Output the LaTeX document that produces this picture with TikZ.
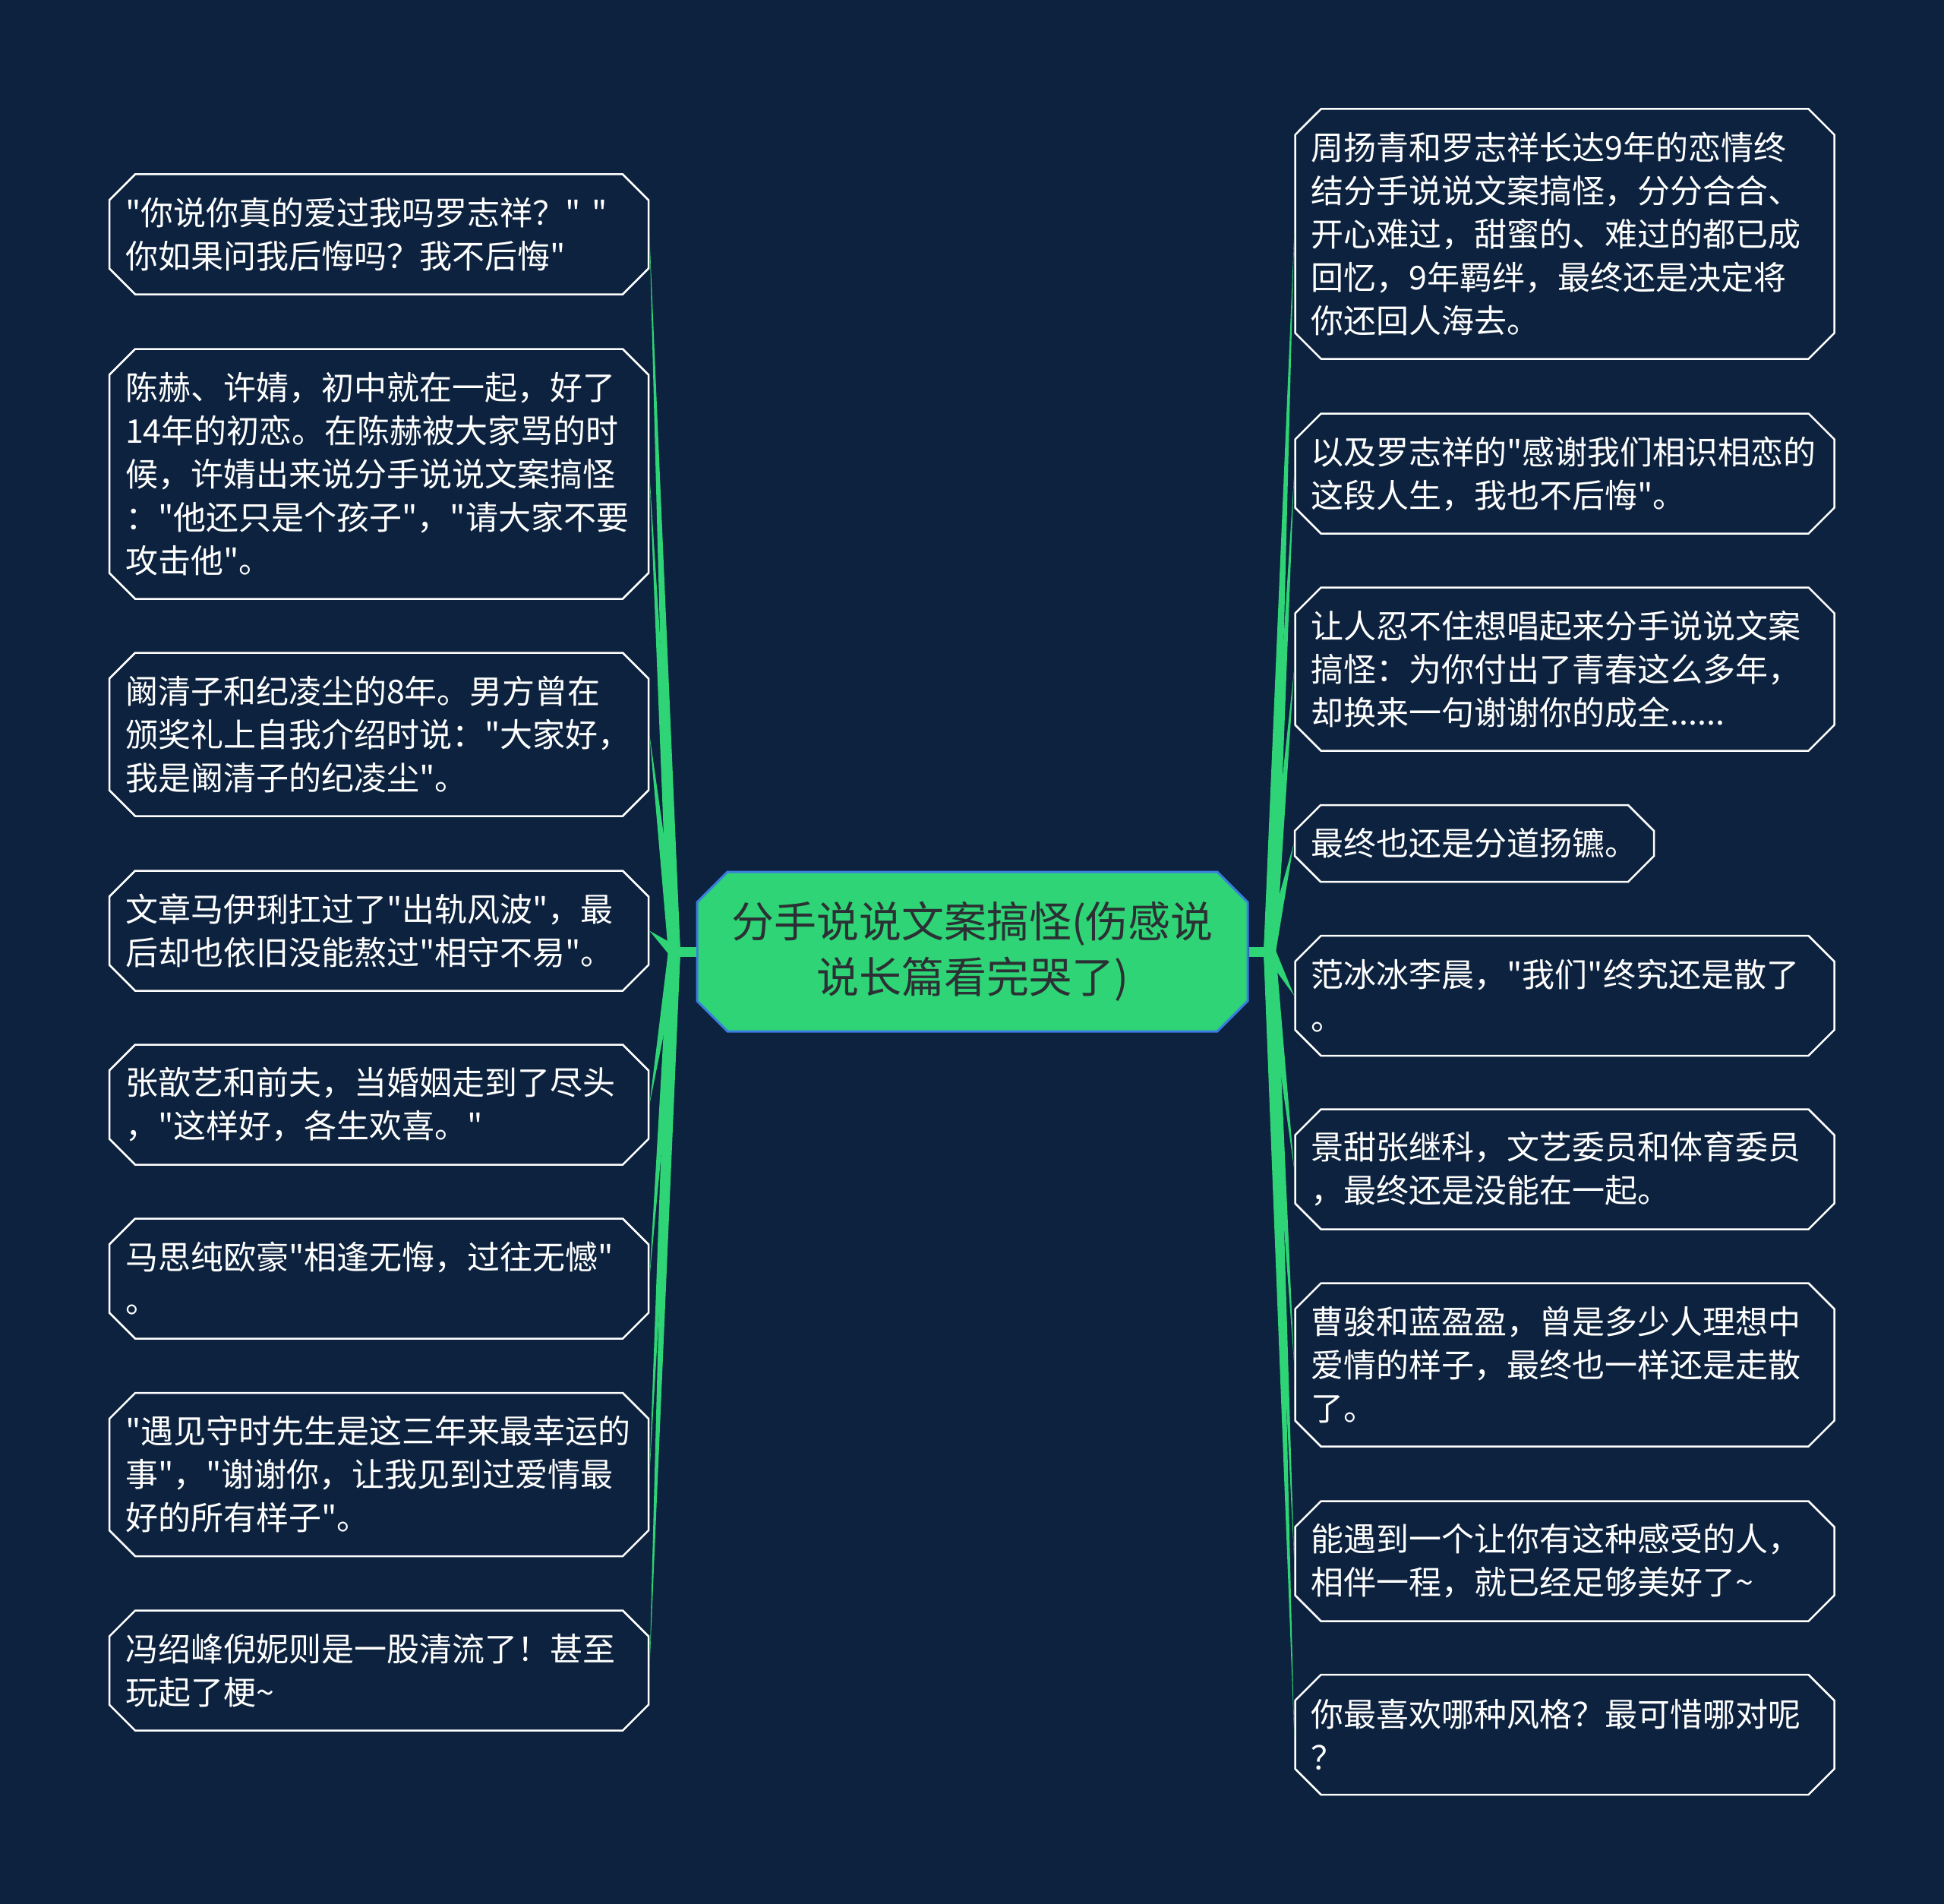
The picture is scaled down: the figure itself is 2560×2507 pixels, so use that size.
\documentclass[tikz,border=0pt]{standalone}
\usepackage{fontspec}
\newfontfamily\cjk{Noto Sans CJK SC}
\usepackage{tikz}
\usetikzlibrary{shapes.misc}
\usetikzlibrary{calc}
\definecolor{bgnavy}{RGB}{12,34,62}
\definecolor{leafgreen}{RGB}{46,212,117}
\definecolor{hubblue}{RGB}{58,126,222}
\definecolor{hubtext}{RGB}{44,48,52}

\begin{document}
\begin{tikzpicture}[x=1pt, y=-1pt,
		leaf/.style={chamfered rectangle, chamfered rectangle xsep=17pt, chamfered rectangle ysep=17pt,
			draw=white, line width=2.5pt, fill=bgnavy, text=white, align=left, text width=668pt,
			inner xsep=4pt, inner ysep=0pt, font=\cjk\fontsize{43}{57}\selectfont},
		nl/.style={minimum height=44pt+57pt*#1},
		branch/.style={fill=leafgreen},
		stub/.style={draw=leafgreen, line width=13pt}
	]
	\fill[bgnavy] (0,0) rectangle (2560,2507);
	\useasboundingbox (0,0) rectangle (2560,2507);

	\node[chamfered rectangle, chamfered rectangle xsep=20pt, chamfered rectangle ysep=20pt,
		fill=leafgreen, draw=hubblue, line width=3pt, text=hubtext, align=center,
		minimum width=725pt, minimum height=210pt, inner sep=0pt,
		font=\cjk\fontsize{56}{73}\selectfont] (hub) at (1280.5,1253)
		{分手说说文案搞怪(伤感说\\说长篇看完哭了)};
	\coordinate (rootL) at (888,1253);
	\coordinate (rootR) at (1672,1253);

	% left side
	\node[leaf, nl=2] (l1) at (499,308.5) {"你说你真的爱过我吗罗志祥？" "\\你如果问我后悔吗？我不后悔"};
	\node[leaf, nl=5] (l2) at (499,624) {陈赫、许婧，初中就在一起，好了\\14年的初恋。在陈赫被大家骂的时\\候，许婧出来说分手说说文案搞怪\\："他还只是个孩子"，"请大家不要\\攻击他"。};
	\node[leaf, nl=3] (l3) at (499,967) {阚清子和纪凌尘的8年。男方曾在\\颁奖礼上自我介绍时说："大家好，\\我是阚清子的纪凌尘"。};
	\node[leaf, nl=2] (l4) at (499,1225.5) {文章马伊琍扛过了"出轨风波"，最\\后却也依旧没能熬过"相守不易"。};
	\node[leaf, nl=2] (l5) at (499,1454.5) {张歆艺和前夫，当婚姻走到了尽头\\，"这样好，各生欢喜。"};
	\node[leaf, nl=2] (l6) at (499,1683.5) {马思纯欧豪"相逢无悔，过往无憾"\\。};
	\node[leaf, nl=3] (l7) at (499,1941.5) {"遇见守时先生是这三年来最幸运的\\事"，"谢谢你，让我见到过爱情最\\好的所有样子"。};
	\node[leaf, nl=2] (l8) at (499,2199.5) {冯绍峰倪妮则是一股清流了！甚至\\玩起了梗\textasciitilde};

	% right side
	\node[leaf, nl=5] (r1) at (2060.5,308) {周扬青和罗志祥长达9年的恋情终\\结分手说说文案搞怪，分分合合、\\开心难过，甜蜜的、难过的都已成\\回忆，9年羁绊，最终还是决定将\\你还回人海去。};
	\node[leaf, nl=2] (r2) at (2060.5,623.5) {以及罗志祥的"感谢我们相识相恋的\\这段人生，我也不后悔"。};
	\node[leaf, nl=3] (r3) at (2060.5,881) {让人忍不住想唱起来分手说说文案\\搞怪：为你付出了青春这么多年，\\却换来一句谢谢你的成全......};
	\node[leaf, nl=1, text width=431pt] (r4) at (1941.5,1110.5) {最终也还是分道扬镳。};
	\node[leaf, nl=2] (r5) at (2060.5,1311) {范冰冰李晨，"我们"终究还是散了\\。};
	\node[leaf, nl=2] (r6) at (2060.5,1539.5) {景甜张继科，文艺委员和体育委员\\，最终还是没能在一起。};
	\node[leaf, nl=3] (r7) at (2060.5,1797) {曹骏和蓝盈盈，曾是多少人理想中\\爱情的样子，最终也一样还是走散\\了。};
	\node[leaf, nl=2] (r8) at (2060.5,2055.5) {能遇到一个让你有这种感受的人，\\相伴一程，就已经足够美好了\textasciitilde};
	\node[leaf, nl=2] (r9) at (2060.5,2284) {你最喜欢哪种风格？最可惜哪对呢\\？};

	\draw[stub] (hub.west) -- (rootL);
	\draw[stub] (hub.east) -- (rootR);
	\foreach \n in {l1,l2,l3,l4,l5,l6,l7,l8}
		\fill[branch] ($(rootL)!8pt!90:(\n.east)$) -- (\n.east) -- ($(rootL)!8pt!-90:(\n.east)$) -- cycle;
	\foreach \n in {r1,r2,r3,r4,r5,r6,r7,r8,r9}
		\fill[branch] ($(rootR)!8pt!90:(\n.west)$) -- (\n.west) -- ($(rootR)!8pt!-90:(\n.west)$) -- cycle;
\end{tikzpicture}
\end{document}
